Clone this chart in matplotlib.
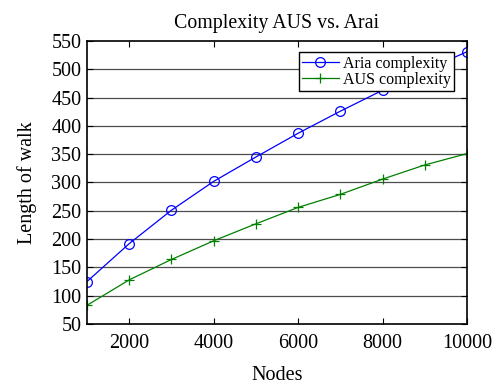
import matplotlib
matplotlib.use("Agg")
import matplotlib.pyplot as plt

nodes = [1000, 2000, 3000, 4000, 5000, 6000, 7000, 8000, 9000, 10000]
aria = [125, 192, 251, 302, 345, 387, 426, 463, 498, 531]
aus = [83, 128, 164, 197, 227, 256, 279, 306, 331, 351]
xticks = [2000, 4000, 6000, 8000, 10000]
yticks = [50, 100, 150, 200, 250, 300, 350, 400, 450, 500, 550]

plt.rcParams['font.family'] = ['Liberation Serif', 'DejaVu Serif']

fig = plt.figure(figsize=(4.98, 3.85), dpi=100)
ax = fig.add_axes([87/498, 1 - 324/385, (467-87)/498, (324-41)/385])

for y in yticks[1:-1]:
    ax.axhline(y, color='0.3', lw=0.9, zorder=0)

ax.plot(nodes, aria, color='blue', lw=0.9, marker='o', ms=7, mfc='none', mec='blue', mew=0.9, label='Aria complexity')
ax.plot(nodes, aus, color='green', lw=0.9, marker='+', ms=6.5, mew=0.9, label='AUS complexity')

ax.set_xlim(1000, 10000)
ax.set_ylim(50, 550)
ax.set_xticks(xticks)
ax.set_yticks(yticks)
ax.tick_params(direction='in', top=True, right=True, labelsize=14.5, length=4, width=0.8)
ax.tick_params(axis='x', pad=7)
ax.tick_params(axis='y', pad=4)
for s in ax.spines.values():
    s.set_linewidth(1.2)

ax.set_title('Complexity AUS vs. Arai', fontsize=14.3, pad=9)
ax.set_xlabel('Nodes', fontsize=14.5, labelpad=9.5)
ax.set_ylabel('Length of walk', fontsize=14.5, labelpad=10)

leg = ax.legend(loc='upper right', bbox_to_anchor=(0.967, 0.96), fontsize=11.5, frameon=True, fancybox=False,
                edgecolor='black', framealpha=1, borderpad=0.2, labelspacing=0.0, handlelength=2.3,
                handletextpad=0.3, borderaxespad=0)
leg.get_frame().set_linewidth(1.0)

fig.savefig('out.png', dpi=100)
